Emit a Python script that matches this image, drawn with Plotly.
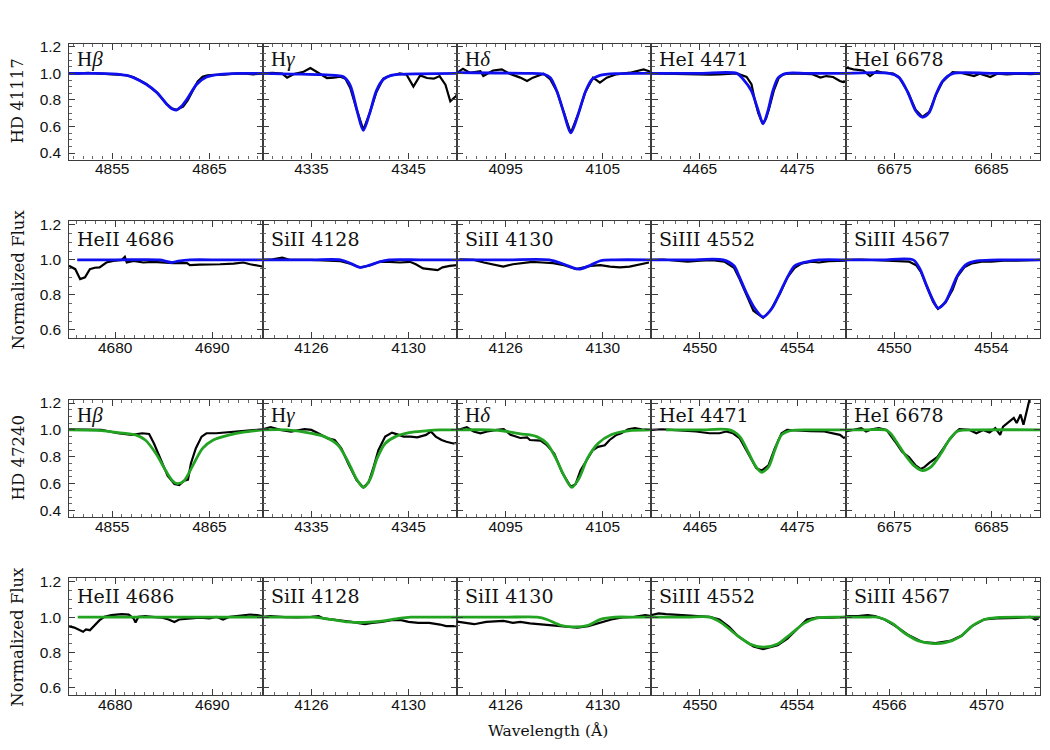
import plotly.graph_objects as go

# ---------------- DATA (wavelength in Angstrom, normalized flux) ----------------
# Row 1: HD 41117 (model = blue)
hb_a_obs_wl = [4850.5, 4851.5, 4852.5, 4853.5, 4854.5, 4855.5, 4856.5, 4857.2, 4858.5, 4859.6, 4860.6, 4861.1, 4861.6, 4862.3, 4862.8, 4863.3, 4863.8, 4864.3, 4864.8, 4865.5, 4866.5, 4867.5, 4868.5, 4869.5, 4870.5]
hb_a_obs_fl = [1.0, 0.998, 1.003, 0.997, 0.995, 0.99, 0.985, 0.97, 0.92, 0.855, 0.77, 0.738, 0.725, 0.75, 0.80, 0.87, 0.94, 0.975, 0.985, 0.988, 0.99, 0.998, 1.0, 0.993, 0.997]
hb_a_mod_wl = [4850.5, 4853.0, 4855.0, 4856.5, 4857.2, 4858.5, 4859.6, 4860.6, 4861.1, 4861.6, 4862.1, 4862.7, 4863.7, 4864.7, 4866.1, 4868.2, 4870.5]
hb_a_mod_fl = [1.0, 1.0, 0.997, 0.985, 0.968, 0.918, 0.856, 0.769, 0.735, 0.724, 0.75, 0.806, 0.918, 0.973, 0.993, 1.0, 1.0]

hg_a_obs_wl = [4330.0, 4331.0, 4332.0, 4332.5, 4333.2, 4334.2, 4334.9, 4335.6, 4336.0, 4336.6, 4337.3, 4338.0, 4338.5, 4339.0, 4339.7, 4340.35, 4341.0, 4341.7, 4342.4, 4343.0, 4343.6, 4344.1, 4344.8, 4345.5, 4346.2, 4346.9, 4347.6, 4348.2, 4348.8, 4349.3, 4349.9, 4350.0]
hg_a_obs_fl = [1.0, 1.003, 0.998, 0.968, 0.995, 1.012, 1.04, 1.01, 0.99, 0.965, 0.968, 0.975, 0.96, 0.89, 0.72, 0.575, 0.70, 0.86, 0.96, 0.98, 0.99, 1.0, 0.99, 0.90, 0.985, 0.965, 0.96, 0.98, 0.915, 0.79, 0.83, 0.85]
hg_a_mod_wl = [4330.0, 4333.0, 4336.0, 4337.5, 4338.3, 4339.0, 4339.7, 4340.35, 4341.0, 4341.7, 4342.4, 4343.2, 4344.1, 4346.0, 4350.0]
hg_a_mod_fl = [1.0, 0.995, 0.99, 0.984, 0.975, 0.91, 0.72, 0.57, 0.70, 0.87, 0.955, 0.985, 0.993, 0.997, 1.0]

hd_a_obs_wl = [4090.0, 4090.6, 4091.3, 4092.4, 4092.7, 4093.7, 4094.6, 4095.4, 4096.5, 4097.2, 4097.8, 4098.9, 4099.6, 4100.3, 4101.0, 4101.7, 4102.5, 4103.2, 4104.0, 4104.7, 4105.4, 4106.4, 4107.8, 4109.2, 4109.9]
hd_a_obs_fl = [1.005, 1.035, 1.005, 1.017, 0.98, 1.022, 1.03, 0.998, 0.968, 0.943, 0.968, 0.998, 0.955, 0.86, 0.70, 0.55, 0.70, 0.86, 0.968, 0.93, 0.968, 0.993, 1.005, 1.03, 1.012]
hd_a_mod_wl = [4090.0, 4094.0, 4097.0, 4098.9, 4099.6, 4100.3, 4101.0, 4101.7, 4102.5, 4103.2, 4103.9, 4104.7, 4106.4, 4110.0]
hd_a_mod_fl = [1.005, 1.003, 1.0, 0.995, 0.968, 0.86, 0.70, 0.552, 0.70, 0.86, 0.955, 0.985, 0.998, 1.0]

he1a_a_obs_wl = [4460.0, 4461.0, 4462.0, 4463.0, 4464.0, 4465.0, 4466.0, 4467.0, 4468.0, 4468.8, 4469.8, 4470.3, 4470.66, 4471.0, 4471.45, 4471.8, 4472.1, 4472.6, 4473.1, 4473.6, 4474.5, 4475.5, 4476.5, 4477.4, 4478.0, 4478.7, 4479.4, 4479.75, 4480.0]
he1a_a_obs_fl = [1.0, 0.998, 1.0, 0.997, 0.995, 0.993, 0.99, 0.992, 0.998, 1.0, 0.973, 0.918, 0.793, 0.70, 0.62, 0.66, 0.73, 0.87, 0.965, 0.995, 1.0, 0.998, 0.995, 0.968, 0.98, 0.973, 0.943, 0.935, 0.94]
he1a_a_mod_wl = [4460.0, 4465.0, 4468.8, 4469.46, 4470.3, 4471.0, 4471.5, 4472.0, 4472.5, 4473.06, 4473.9, 4476.0, 4480.0]
he1a_a_mod_fl = [1.0, 1.0, 1.0, 0.955, 0.868, 0.719, 0.62, 0.719, 0.868, 0.968, 1.0, 1.0, 1.0]

he1b_a_obs_wl = [6670.0, 6670.1, 6670.8, 6671.8, 6672.5, 6673.2, 6673.9, 6674.9, 6675.5, 6676.4, 6677.2, 6677.9, 6678.6, 6679.3, 6680.0, 6681.0, 6681.8, 6682.5, 6683.2, 6683.8, 6684.4, 6684.9, 6685.6, 6686.6, 6688.0, 6689.0, 6690.0]
he1b_a_obs_fl = [1.035, 1.042, 1.03, 1.022, 0.98, 1.017, 1.005, 0.998, 0.97, 0.86, 0.725, 0.672, 0.71, 0.84, 0.94, 1.01, 1.005, 0.99, 0.98, 0.998, 0.985, 0.973, 0.998, 0.993, 0.998, 0.995, 0.998]
he1b_a_mod_wl = [6670.0, 6674.5, 6675.5, 6676.4, 6677.2, 6677.9, 6678.6, 6679.3, 6680.0, 6681.0, 6685.0, 6690.0]
he1b_a_mod_fl = [1.0, 1.0, 0.968, 0.856, 0.719, 0.67, 0.707, 0.843, 0.943, 0.998, 1.0, 1.0]

# Row 2: HD 41117 (model = blue)
he2_a_obs_wl = [4675.25, 4675.9, 4676.4, 4676.9, 4677.4, 4677.9, 4678.4, 4679.1, 4679.8, 4680.7, 4681.0, 4681.2, 4681.9, 4682.9, 4683.9, 4685.0, 4686.0, 4687.4, 4687.7, 4688.7, 4689.8, 4690.8, 4692.2, 4693.2, 4693.9, 4694.6, 4695.15]
he2_a_obs_fl = [0.966, 0.947, 0.89, 0.90, 0.947, 0.955, 0.957, 0.985, 0.994, 1.0, 1.017, 0.985, 0.994, 0.985, 0.989, 0.985, 0.981, 0.981, 0.97, 0.973, 0.973, 0.975, 0.979, 0.985, 0.975, 0.966, 0.962]
he2_a_mod_wl = [4676.1, 4680.0, 4684.6, 4685.2, 4685.8, 4686.5, 4687.7, 4691.0, 4695.2]
he2_a_mod_fl = [1.0, 1.0, 1.0, 0.993, 0.985, 0.993, 1.0, 1.0, 1.0]

si2a_a_obs_wl = [4124.0, 4124.4, 4124.8, 4125.1, 4126.0, 4126.7, 4127.2, 4127.6, 4128.0, 4128.4, 4128.8, 4129.2, 4129.65, 4130.06, 4130.3, 4130.6, 4130.9, 4131.2, 4131.4, 4131.7, 4132.0]
si2a_a_obs_fl = [1.0, 1.003, 1.013, 1.0, 1.0, 0.994, 0.992, 0.978, 0.957, 0.968, 0.989, 0.989, 0.985, 0.989, 0.975, 0.951, 0.947, 0.941, 0.957, 0.966, 0.97]
si2a_a_mod_wl = [4124.0, 4126.0, 4127.2, 4127.6, 4128.0, 4128.4, 4128.8, 4129.2, 4130.5, 4132.0]
si2a_a_mod_fl = [1.0, 1.0, 1.0, 0.981, 0.957, 0.97, 0.989, 1.0, 1.0, 1.0]

si2b_a_obs_wl = [4124.1, 4124.7, 4125.1, 4125.5, 4125.9, 4126.3, 4126.7, 4127.1, 4127.5, 4127.95, 4128.4, 4128.9, 4129.5, 4129.9, 4130.3, 4130.7, 4131.1, 4131.5, 4131.9]
si2b_a_obs_fl = [1.003, 1.0, 0.985, 0.975, 0.962, 0.975, 0.981, 0.989, 0.985, 0.981, 0.97, 0.947, 0.966, 0.97, 0.962, 0.957, 0.962, 0.975, 0.985]
si2b_a_mod_wl = [4124.0, 4126.0, 4127.8, 4128.4, 4129.0, 4129.5, 4129.9, 4130.5, 4132.0]
si2b_a_mod_fl = [1.0, 1.0, 1.0, 0.975, 0.947, 0.97, 0.995, 1.0, 1.0]

si3a_a_obs_wl = [4548.0, 4548.5, 4549.0, 4549.5, 4550.0, 4550.5, 4551.0, 4551.4, 4551.6, 4551.9, 4552.2, 4552.6, 4552.9, 4553.3, 4553.6, 4553.9, 4554.2, 4554.6, 4554.9, 4555.3, 4556.0]
si3a_a_obs_fl = [1.0, 1.002, 0.995, 0.99, 0.995, 0.998, 0.99, 0.955, 0.90, 0.80, 0.71, 0.67, 0.71, 0.81, 0.90, 0.955, 0.98, 0.99, 0.985, 0.993, 0.995]
si3a_a_mod_wl = [4548.0, 4549.5, 4550.96, 4551.4, 4551.6, 4551.9, 4552.27, 4552.6, 4552.95, 4553.3, 4553.6, 4553.9, 4554.4, 4554.9, 4556.0]
si3a_a_mod_fl = [1.0, 1.0, 1.0, 0.966, 0.91, 0.815, 0.721, 0.674, 0.721, 0.815, 0.90, 0.966, 0.989, 1.0, 1.0]

si3b_a_obs_wl = [4548.0, 4548.6, 4549.3, 4550.0, 4550.6, 4550.9, 4551.1, 4551.35, 4551.6, 4551.8, 4552.1, 4552.4, 4552.6, 4552.9, 4553.2, 4553.6, 4554.0, 4554.5, 4555.0, 4556.0]
si3b_a_obs_fl = [1.0, 1.002, 0.998, 0.995, 0.99, 0.97, 0.93, 0.845, 0.76, 0.72, 0.755, 0.83, 0.905, 0.96, 0.98, 0.99, 0.99, 0.995, 0.995, 1.0]
si3b_a_mod_wl = [4548.0, 4549.5, 4550.78, 4551.06, 4551.33, 4551.6, 4551.8, 4552.1, 4552.36, 4552.6, 4552.98, 4553.4, 4554.5, 4556.0]
si3b_a_mod_fl = [1.0, 1.0, 1.0, 0.947, 0.853, 0.768, 0.725, 0.759, 0.834, 0.91, 0.975, 0.994, 1.0, 1.0]

# Row 3: HD 47240 (model = green)
hb_b_obs_wl = [4850.5, 4852.1, 4853.9, 4855.6, 4857.0, 4858.1, 4858.8, 4859.3, 4860.0, 4860.7, 4861.4, 4861.9, 4862.4, 4862.8, 4863.1, 4863.6, 4864.2, 4864.7, 4865.7, 4866.8, 4867.8, 4869.2, 4870.5]
hb_b_obs_fl = [1.005, 1.005, 1.0, 0.975, 0.963, 0.975, 0.97, 0.899, 0.773, 0.66, 0.597, 0.59, 0.622, 0.63, 0.75, 0.862, 0.95, 0.975, 0.975, 0.983, 0.988, 1.0, 1.005]
hb_b_mod_wl = [4850.5, 4853.9, 4855.6, 4857.4, 4858.4, 4859.5, 4860.5, 4861.2, 4861.7, 4862.4, 4863.3, 4864.3, 4865.4, 4867.1, 4868.5, 4870.5]
hb_b_mod_fl = [1.0, 0.995, 0.98, 0.963, 0.925, 0.824, 0.698, 0.622, 0.60, 0.622, 0.736, 0.862, 0.925, 0.963, 0.983, 1.0]

hg_b_obs_wl = [4330.0, 4330.8, 4331.8, 4332.9, 4334.3, 4335.0, 4335.7, 4336.7, 4337.4, 4338.1, 4338.8, 4339.65, 4340.35, 4340.9, 4341.4, 4341.9, 4342.6, 4343.3, 4344.0, 4344.5, 4345.2, 4345.9, 4346.8, 4347.3, 4347.8, 4348.4, 4348.9, 4349.6, 4350.0]
hg_b_obs_fl = [1.005, 1.021, 1.0, 0.988, 1.005, 1.0, 0.975, 0.937, 0.925, 0.862, 0.748, 0.627, 0.572, 0.61, 0.723, 0.849, 0.95, 0.98, 0.963, 0.95, 0.95, 0.945, 0.963, 0.988, 0.95, 0.925, 0.912, 0.899, 0.904]
hg_b_mod_wl = [4330.0, 4332.5, 4335.0, 4336.35, 4337.75, 4338.8, 4339.65, 4340.35, 4341.05, 4341.75, 4342.6, 4343.65, 4345.05, 4346.8, 4348.2, 4350.0]
hg_b_mod_fl = [1.0, 1.0, 0.975, 0.95, 0.886, 0.76, 0.634, 0.572, 0.634, 0.786, 0.899, 0.95, 0.98, 0.993, 1.0, 1.0]

hd_b_obs_wl = [4090.0, 4090.3, 4091.0, 4091.7, 4092.4, 4093.1, 4094.1, 4094.8, 4095.5, 4096.2, 4096.5, 4097.2, 4097.5, 4098.6, 4099.25, 4100.0, 4100.8, 4101.7, 4102.2, 4102.7, 4103.4, 4103.96, 4104.5, 4105.2, 4105.7, 4106.4, 4106.9, 4107.6, 4108.3, 4109.0, 4110.0]
hd_b_obs_fl = [1.005, 1.005, 1.02, 0.988, 0.975, 0.988, 1.0, 1.005, 0.963, 0.95, 0.94, 0.945, 0.925, 0.92, 0.886, 0.824, 0.685, 0.577, 0.597, 0.698, 0.786, 0.849, 0.874, 0.886, 0.925, 0.963, 0.975, 1.005, 1.013, 1.005, 1.0]
hd_b_mod_wl = [4090.0, 4093.4, 4095.0, 4096.5, 4097.5, 4098.2, 4099.25, 4100.1, 4101.0, 4101.8, 4102.6, 4103.4, 4104.5, 4105.9, 4107.6, 4110.0]
hd_b_mod_fl = [1.0, 1.0, 0.99, 0.97, 0.963, 0.95, 0.899, 0.798, 0.66, 0.572, 0.647, 0.786, 0.899, 0.966, 0.993, 1.0]

he1a_b_obs_wl = [4460.0, 4461.1, 4462.1, 4463.2, 4464.6, 4465.96, 4467.0, 4467.7, 4468.4, 4469.1, 4469.96, 4470.8, 4471.35, 4472.05, 4472.7, 4473.4, 4473.97, 4475.0, 4476.4, 4477.8, 4478.8, 4479.4, 4479.9]
he1a_b_obs_fl = [1.0, 1.005, 1.0, 0.995, 0.988, 0.975, 0.975, 0.988, 0.975, 0.937, 0.824, 0.715, 0.698, 0.736, 0.862, 0.975, 1.0, 0.995, 0.99, 0.988, 0.975, 0.963, 0.937]
he1a_b_mod_wl = [4461.5, 4465.0, 4468.05, 4469.1, 4469.96, 4470.8, 4471.35, 4472.05, 4472.7, 4473.4, 4474.3, 4477.0, 4480.0]
he1a_b_mod_fl = [1.0, 1.0, 1.0, 0.95, 0.836, 0.723, 0.685, 0.723, 0.849, 0.963, 0.995, 1.0, 1.0]

he1b_b_obs_wl = [6670.0, 6670.9, 6671.6, 6672.1, 6672.7, 6673.4, 6674.2, 6675.1, 6675.8, 6676.5, 6677.2, 6677.7, 6678.1, 6678.6, 6679.45, 6679.97, 6680.65, 6681.4, 6681.7, 6682.75, 6683.45, 6684.15, 6684.8, 6685.4, 6685.9, 6686.2, 6686.8, 6687.3, 6687.6, 6688.0, 6688.3, 6688.7, 6689.0, 6689.2]
he1b_b_obs_fl = [0.988, 1.0, 1.013, 0.988, 1.005, 1.013, 1.0, 0.912, 0.837, 0.799, 0.736, 0.71, 0.723, 0.754, 0.799, 0.854, 0.925, 0.988, 1.005, 1.0, 0.975, 1.0, 0.98, 1.013, 0.963, 1.025, 1.063, 1.089, 1.051, 1.114, 1.038, 1.151, 1.25, 1.40]
he1b_b_mod_wl = [6670.0, 6672.0, 6674.06, 6674.6, 6675.1, 6676.15, 6677.0, 6677.9, 6678.75, 6679.8, 6680.65, 6681.5, 6684.0, 6690.0]
he1b_b_mod_fl = [1.0, 1.0, 1.0, 0.975, 0.925, 0.811, 0.736, 0.698, 0.723, 0.824, 0.925, 0.99, 1.0, 1.0]

# Row 4: HD 47240 (model = green)
he2_b_obs_wl = [4675.2, 4675.8, 4676.7, 4677.0, 4677.4, 4677.9, 4678.4, 4678.9, 4679.6, 4680.7, 4681.4, 4681.9, 4682.1, 4682.4, 4683.1, 4683.8, 4684.85, 4685.5, 4686.1, 4686.6, 4687.6, 4688.7, 4689.7, 4690.4, 4691.1, 4691.8, 4692.5, 4693.2, 4693.9, 4694.6, 4695.15]
he2_b_obs_fl = [0.949, 0.941, 0.917, 0.93, 0.926, 0.954, 0.983, 1.002, 1.012, 1.017, 1.015, 0.993, 0.97, 1.002, 1.006, 1.002, 0.997, 0.987, 0.973, 0.987, 0.993, 0.997, 0.993, 1.002, 0.987, 1.002, 1.006, 1.012, 1.015, 1.012, 1.006]
he2_b_mod_wl = [4676.15, 4680.0, 4685.0, 4690.0, 4695.2]
he2_b_mod_fl = [1.0, 1.0, 1.0, 1.0, 1.0]

si2a_b_obs_wl = [4124.0, 4124.3, 4124.9, 4125.4, 4126.0, 4126.3, 4126.5, 4127.1, 4127.65, 4128.2, 4128.5, 4128.9, 4129.3, 4129.7, 4130.0, 4130.4, 4130.85, 4131.3, 4131.55, 4132.0]
si2a_b_obs_fl = [1.002, 1.006, 1.0, 0.998, 1.002, 1.006, 0.993, 0.983, 0.973, 0.96, 0.968, 0.973, 0.983, 0.983, 0.973, 0.968, 0.968, 0.958, 0.949, 0.949]
si2a_b_mod_wl = [4124.0, 4125.5, 4126.1, 4126.8, 4127.5, 4128.2, 4128.9, 4129.6, 4130.1, 4131.0, 4132.0]
si2a_b_mod_fl = [1.0, 1.0, 1.0, 0.987, 0.973, 0.97, 0.977, 0.993, 1.0, 1.0, 1.0]

si2b_b_obs_wl = [4124.0, 4124.1, 4124.7, 4125.2, 4125.9, 4126.3, 4126.6, 4127.0, 4127.4, 4128.0, 4128.5, 4128.95, 4129.4, 4129.9, 4130.35, 4130.8, 4131.3, 4131.75, 4132.0]
si2b_b_obs_fl = [0.975, 0.973, 0.96, 0.973, 0.979, 0.968, 0.973, 0.965, 0.96, 0.949, 0.945, 0.941, 0.949, 0.968, 0.987, 0.998, 1.002, 1.012, 1.006]
si2b_b_mod_wl = [4124.0, 4126.0, 4127.3, 4127.7, 4128.26, 4128.8, 4129.4, 4129.9, 4130.5, 4131.3, 4132.0]
si2b_b_mod_fl = [1.0, 1.0, 1.0, 0.987, 0.954, 0.945, 0.954, 0.987, 1.0, 1.0, 1.0]

si3a_b_obs_wl = [4548.0, 4548.3, 4548.6, 4549.1, 4549.8, 4550.4, 4550.8, 4551.2, 4551.6, 4552.2, 4552.6, 4553.2, 4553.6, 4554.0, 4554.4, 4554.8, 4555.4, 4556.0]
si3a_b_obs_fl = [1.012, 1.021, 1.017, 1.012, 1.006, 1.002, 0.987, 0.945, 0.888, 0.834, 0.819, 0.84, 0.878, 0.935, 0.987, 0.997, 0.997, 1.002]
si3a_b_mod_wl = [4548.0, 4549.5, 4550.4, 4550.9, 4551.5, 4552.05, 4552.6, 4553.2, 4553.7, 4554.3, 4554.8, 4556.0]
si3a_b_mod_fl = [1.0, 1.0, 1.0, 0.966, 0.90, 0.848, 0.83, 0.848, 0.90, 0.966, 0.995, 1.0]

si3b_b_obs_wl = [4564.2, 4564.3, 4564.7, 4565.1, 4565.4, 4565.8, 4566.2, 4566.8, 4567.35, 4567.9, 4568.5, 4569.0, 4569.4, 4569.9, 4570.4, 4570.8, 4571.4, 4571.8, 4572.0, 4572.15]
si3b_b_obs_fl = [1.004, 1.006, 1.006, 1.012, 1.006, 0.987, 0.954, 0.897, 0.859, 0.853, 0.865, 0.897, 0.949, 0.987, 0.993, 0.993, 0.997, 1.002, 0.987, 0.993]
si3b_b_mod_wl = [4564.2, 4565.0, 4565.5, 4566.1, 4566.65, 4567.2, 4567.8, 4568.3, 4568.9, 4569.4, 4569.9, 4570.4, 4572.2]
si3b_b_mod_fl = [1.0, 1.0, 1.0, 0.966, 0.907, 0.865, 0.85, 0.855, 0.888, 0.949, 0.987, 0.998, 1.0]

# Panel labels, axis ranges and tick values
row13_labels = ["H<i>β</i>", "H<i>γ</i>", "H<i>δ</i>", "HeI 4471", "HeI 6678"]
row24_labels = ["HeII 4686", "SiII 4128", "SiII 4130", "SiIII 4552", "SiIII 4567"]
row13_xranges = [[4850.5, 4870.5], [4330.0, 4350.0], [4090.0, 4110.0], [4460.0, 4480.0], [6670.0, 6690.0]]
row13_xticks = [[4855, 4865], [4335, 4345], [4095, 4105], [4465, 4475], [6675, 6685]]
row2_xranges = [[4675.2, 4695.2], [4124.0, 4132.0], [4124.0, 4132.0], [4548.0, 4556.0], [4548.0, 4556.0]]
row2_xticks = [[4680, 4690], [4126, 4130], [4126, 4130], [4550, 4554], [4550, 4554]]
row4_xranges = [[4675.2, 4695.2], [4124.0, 4132.0], [4124.0, 4132.0], [4548.0, 4556.0], [4564.2, 4572.2]]
row4_xticks = [[4680, 4690], [4126, 4130], [4126, 4130], [4550, 4554], [4566, 4570]]
yrange_balmer = [0.351, 1.224]
yrange_metal = [0.555, 1.222]
yticks_balmer = [0.4, 0.6, 0.8, 1.0, 1.2]
yticks_metal = [0.6, 0.8, 1.0, 1.2]
row_titles = ["HD 41117", "Normalized Flux", "HD 47240", "Normalized Flux"]
x_title = "Wavelength (Å)"

panels = [
    [(hb_a_obs_wl, hb_a_obs_fl, hb_a_mod_wl, hb_a_mod_fl),
     (hg_a_obs_wl, hg_a_obs_fl, hg_a_mod_wl, hg_a_mod_fl),
     (hd_a_obs_wl, hd_a_obs_fl, hd_a_mod_wl, hd_a_mod_fl),
     (he1a_a_obs_wl, he1a_a_obs_fl, he1a_a_mod_wl, he1a_a_mod_fl),
     (he1b_a_obs_wl, he1b_a_obs_fl, he1b_a_mod_wl, he1b_a_mod_fl)],
    [(he2_a_obs_wl, he2_a_obs_fl, he2_a_mod_wl, he2_a_mod_fl),
     (si2a_a_obs_wl, si2a_a_obs_fl, si2a_a_mod_wl, si2a_a_mod_fl),
     (si2b_a_obs_wl, si2b_a_obs_fl, si2b_a_mod_wl, si2b_a_mod_fl),
     (si3a_a_obs_wl, si3a_a_obs_fl, si3a_a_mod_wl, si3a_a_mod_fl),
     (si3b_a_obs_wl, si3b_a_obs_fl, si3b_a_mod_wl, si3b_a_mod_fl)],
    [(hb_b_obs_wl, hb_b_obs_fl, hb_b_mod_wl, hb_b_mod_fl),
     (hg_b_obs_wl, hg_b_obs_fl, hg_b_mod_wl, hg_b_mod_fl),
     (hd_b_obs_wl, hd_b_obs_fl, hd_b_mod_wl, hd_b_mod_fl),
     (he1a_b_obs_wl, he1a_b_obs_fl, he1a_b_mod_wl, he1a_b_mod_fl),
     (he1b_b_obs_wl, he1b_b_obs_fl, he1b_b_mod_wl, he1b_b_mod_fl)],
    [(he2_b_obs_wl, he2_b_obs_fl, he2_b_mod_wl, he2_b_mod_fl),
     (si2a_b_obs_wl, si2a_b_obs_fl, si2a_b_mod_wl, si2a_b_mod_fl),
     (si2b_b_obs_wl, si2b_b_obs_fl, si2b_b_mod_wl, si2b_b_mod_fl),
     (si3a_b_obs_wl, si3a_b_obs_fl, si3a_b_mod_wl, si3a_b_mod_fl),
     (si3b_b_obs_wl, si3b_b_obs_fl, si3b_b_mod_wl, si3b_b_mod_fl)],
]

# ---------------- LAYOUT / STYLE ----------------
W, H = 1050, 750
col_edges = [68.5, 262.8, 457.1, 651.4, 845.7, 1040.0]
row_edges = [(39.0, 156.0), (218.0, 336.0), (398.5, 517.0), (578.5, 697.0)]
model_colors = ["#1010ee", "#1010ee", "#22a322", "#22a322"]
frame_col = "#3c3c3c"
minor_col = "#666666"
tick_font = dict(family="Liberation Sans, Arial, sans-serif", size=15.5, color="#111")
label_font = dict(family="DejaVu Serif, serif", size=19, color="#111")
greek_font = dict(family="Liberation Serif, Times New Roman, serif", size=21, color="#111")
title_font = dict(family="DejaVu Serif, serif", size=16.5, color="#111")

fig = go.Figure()
layout = dict(width=W, height=H, margin=dict(l=0, r=0, t=0, b=0),
              paper_bgcolor="white", plot_bgcolor="white", showlegend=False)
annotations = []

n = 0
for r in range(4):
    balmer = (r % 2 == 0)
    if balmer:
        labels, xranges, xticks = row13_labels, row13_xranges, row13_xticks
        yr, yt = yrange_balmer, yticks_balmer
    else:
        labels = row24_labels
        xranges, xticks = (row2_xranges, row2_xticks) if r == 1 else (row4_xranges, row4_xticks)
        yr, yt = yrange_metal, yticks_metal
    top, bot = row_edges[r]
    for c in range(5):
        n += 1
        xa = "x" if n == 1 else f"x{n}"
        ya = "y" if n == 1 else f"y{n}"
        ow, of, mw, mf = panels[r][c]
        fig.add_trace(go.Scatter(x=ow, y=of, mode="lines", xaxis=xa, yaxis=ya,
                                 line=dict(color="black", width=2.2), hoverinfo="skip"))
        fig.add_trace(go.Scatter(x=mw, y=mf, mode="lines", xaxis=xa, yaxis=ya,
                                 line=dict(color=model_colors[r], width=2.8, shape="spline", smoothing=0.8),
                                 hoverinfo="skip"))
        dt = xticks[c][1] - xticks[c][0]
        minor_dt = 1.0 if dt >= 10 else 0.5
        xk = "xaxis" if n == 1 else f"xaxis{n}"
        yk = "yaxis" if n == 1 else f"yaxis{n}"
        layout[xk] = dict(domain=[col_edges[c] / W, col_edges[c + 1] / W], anchor=ya,
                          range=xranges[c], tickmode="array", tickvals=xticks[c],
                          ticktext=[str(v) for v in xticks[c]],
                          ticks="inside", ticklen=6, tickwidth=1, tickcolor=frame_col,
                          minor=dict(ticks="inside", ticklen=3, tickwidth=0.8, tickcolor=minor_col,
                                     tickmode="linear", tick0=xticks[c][0], dtick=minor_dt),
                          showline=True, linecolor=frame_col, linewidth=1.3, mirror="allticks",
                          showgrid=False, zeroline=False, tickfont=tick_font,
                          ticklabelstandoff=-5)
        layout[yk] = dict(domain=[1 - bot / H, 1 - top / H], anchor=xa, range=yr,
                          tickmode="array", tickvals=yt, ticktext=[f"{v:.1f}" for v in yt],
                          showticklabels=(c == 0),
                          ticks="inside", ticklen=6, tickwidth=1, tickcolor=frame_col,
                          minor=dict(ticks="inside", ticklen=3, tickwidth=0.8, tickcolor=minor_col,
                                     tickmode="linear", tick0=0.4, dtick=0.05),
                          showline=True, linecolor=frame_col, linewidth=1.3, mirror="allticks",
                          showgrid=False, zeroline=False, tickfont=tick_font,
                          ticklabelstandoff=3)
        lab = labels[c]
        annotations.append(dict(text=lab, xref=f"{xa} domain", yref=f"{ya} domain",
                                x=0.0, y=1.0, xanchor="left", yanchor="middle",
                                xshift=6, yshift=-15 if balmer else -18, showarrow=False,
                                font=greek_font if lab.startswith("H<i>") else label_font))
    annotations.append(dict(text=row_titles[r], xref="paper", yref="paper",
                            x=18 / W, y=1 - (top + bot) / 2 / H, textangle=-90,
                            xanchor="center", yanchor="middle", showarrow=False, font=title_font))

annotations.append(dict(text=x_title, xref="paper", yref="paper", x=548 / W, y=1 - 733 / H,
                        xanchor="center", yanchor="middle", showarrow=False,
                        font=dict(family="DejaVu Serif, serif", size=15.5, color="#111")))
layout["annotations"] = annotations
fig.update_layout(**layout)
fig.write_html("out.html")
